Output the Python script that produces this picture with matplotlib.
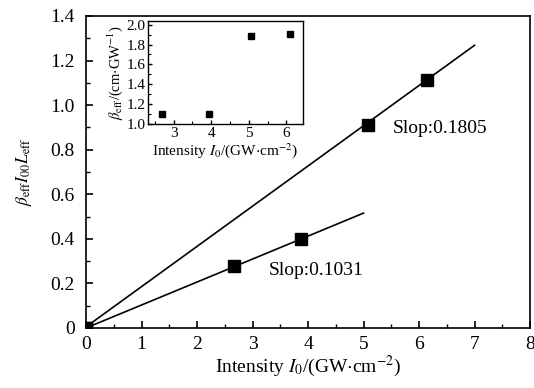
import matplotlib
matplotlib.use("Agg")
import matplotlib.pyplot as plt
import numpy as np
from matplotlib.ticker import MultipleLocator

plt.rcParams['font.family'] = ['Liberation Serif', 'DejaVu Serif']
plt.rcParams['mathtext.fontset'] = 'stix'

# main data
x_hi = [0.0, 5.08, 6.15]
y_hi = [0.0, 0.91, 1.115]
x_lo = [0.0, 2.66, 3.87]
y_lo = [0.0, 0.278, 0.40]
slope_hi = 0.1805
slope_lo = 0.1031
fit_end_hi = 7.0
fit_end_lo = 5.0
main_xticks = [0, 1, 2, 3, 4, 5, 6, 7, 8]
main_yticks = [0, 0.2, 0.4, 0.6, 0.8, 1.0, 1.2, 1.4]
main_ylabels = ['0', '0.2', '0.4', '0.6', '0.8', '1.0', '1.2', '1.4']

# inset data
ins_x = [2.7, 3.95, 5.05, 6.1]
ins_y = [1.1, 1.1, 1.885, 1.905]
ins_xticks = [3, 4, 5, 6]
ins_yticks = [1.0, 1.2, 1.4, 1.6, 1.8, 2.0]
ins_ylabels = ['1.0', '1.2', '1.4', '1.6', '1.8', '2.0']

fig = plt.figure(figsize=(5.34, 3.88), dpi=100)
ax = fig.add_axes([86/534, 1-328/388, (530-86)/534, (328-16)/388])

xf = np.array([0, fit_end_hi])
ax.plot(xf, slope_hi*xf + 0.005, color='black', lw=1.2)
xf2 = np.array([0, fit_end_lo])
ax.plot(xf2, slope_lo*xf2, color='black', lw=1.2)
ax.plot(x_hi, y_hi, 's', color='black', ms=9)
ax.plot(x_lo, y_lo, 's', color='black', ms=9)

ax.text(5.52, 0.895, 'Slop:0.1805', fontsize=14, va='center', ha='left')
ax.text(3.3, 0.26, 'Slop:0.1031', fontsize=14, va='center', ha='left')

ax.set_xticks(main_xticks)
ax.set_xticklabels([str(v) for v in main_xticks])
ax.set_yticks(main_yticks)
ax.set_yticklabels(main_ylabels)
ax.xaxis.set_minor_locator(MultipleLocator(0.5))
ax.yaxis.set_minor_locator(MultipleLocator(0.1))
ax.set_xlim(0, 8)
ax.set_ylim(0, 1.4)
ax.tick_params(which='both', direction='in', top=False, right=False, labelsize=14)
ax.tick_params(which='major', length=5, width=1.2)
ax.tick_params(axis='x', which='major', pad=6)
ax.tick_params(axis='y', which='major', pad=8)
ax.tick_params(which='minor', length=3, width=1.0)
for s in ax.spines.values():
    s.set_linewidth(1.2)
ax.set_xlabel(r'Intensity $I_0$/(GW$\cdot$cm$^{-2}$)', fontsize=14, labelpad=0)
ax.set_ylabel(r'$\beta_{\rm eff}I_{00}L_{\rm eff}$', fontsize=12.5, labelpad=12)

# inset
axi = fig.add_axes([148/534, 1-124/388, (303-148)/534, (124-20.7)/388])
axi.plot(ins_x, ins_y, 's', color='black', ms=4)
axi.set_xticks(ins_xticks)
axi.set_xticklabels([str(v) for v in ins_xticks])
axi.set_yticks(ins_yticks)
axi.set_yticklabels(ins_ylabels)
axi.xaxis.set_minor_locator(MultipleLocator(0.5))
axi.yaxis.set_minor_locator(MultipleLocator(0.1))
axi.set_xlim(2.32, 6.44)
axi.set_ylim(1.0, 2.04)
axi.tick_params(which='both', direction='in', labelsize=11, pad=2)
axi.tick_params(which='major', length=3, width=1.0)
axi.tick_params(which='minor', length=2, width=0.8)
for s in axi.spines.values():
    s.set_linewidth(1.0)
axi.set_xlabel(r'Intensity $I_0$/(GW$\cdot$cm$^{-2}$)', fontsize=11, labelpad=1)
axi.set_ylabel(r'$\beta_{\rm eff}$/(cm$\cdot$GW$^{-1}$)', fontsize=10.5, labelpad=1)

fig.savefig('out.png', dpi=100)
